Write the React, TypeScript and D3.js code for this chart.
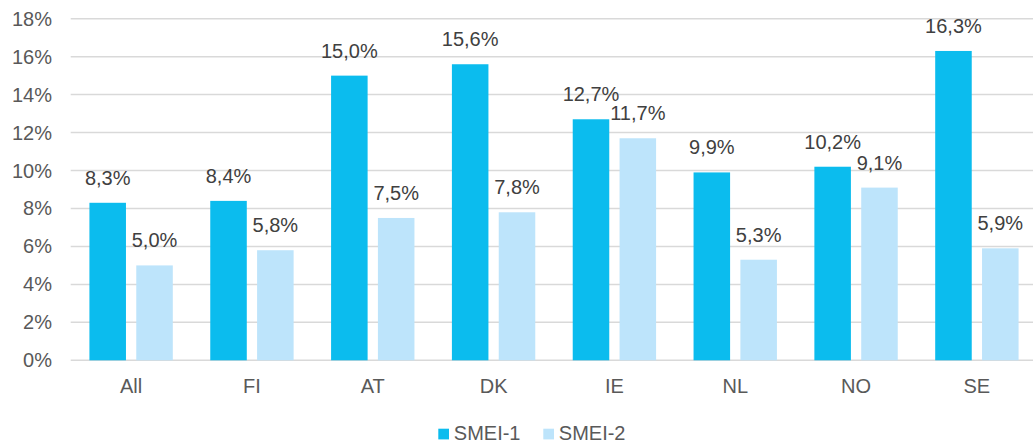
import React from "react";
import * as d3 from "d3";

const categories = ["All", "FI", "AT", "DK", "IE", "NL", "NO", "SE"];
const seriesNames = ["SMEI-1", "SMEI-2"];
const smei1 = [8.3, 8.4, 15.0, 15.6, 12.7, 9.9, 10.2, 16.3];
const smei2 = [5.0, 5.8, 7.5, 7.8, 11.7, 5.3, 9.1, 5.9];
const yTicks = [0, 2, 4, 6, 8, 10, 12, 14, 16, 18];
const colors = ["#0BBCEE", "#BDE4FB"];

const W = 1033;
const H = 443;
const FONT = "'Liberation Sans', Arial, sans-serif";
const TEXT = "#595959";

export default function App() {
  const x0 = d3
    .scaleBand<string>()
    .domain(categories)
    .range([70.7, 1037.3])
    .paddingInner(0.31)
    .paddingOuter(0.155);
  const x1 = d3
    .scaleBand<string>()
    .domain(seriesNames)
    .range([0, x0.bandwidth()])
    .paddingInner(0.22);
  const y = d3.scaleLinear().domain([0, 18]).range([360.3, 18.7]);
  const series = [smei1, smei2];
  const fmt = (v: number) => v.toFixed(1).replace(".", ",") + "%";

  return (
    <div style={{ position: "absolute", left: 0, top: 0 }}>
      <svg width={W} height={H} style={{ display: "block", background: "#fff" }}>
        <rect width={W} height={H} fill="#fff" />
        {yTicks.map((t) => (
          <g key={t}>
            <line
              x1={70.7}
              x2={W}
              y1={y(t)}
              y2={y(t)}
              stroke="#D9D9D9"
              strokeWidth={1.5}
            />
            <text
              x={52}
              y={y(t)}
              dy="0.35em"
              textAnchor="end"
              fontFamily={FONT}
              fontSize={20}
              fill={TEXT}
            >
              {t}%
            </text>
          </g>
        ))}
        {categories.map((c, i) => (
          <g key={c}>
            {series.map((s, si) => {
              const bx = (x0(c) as number) + (x1(seriesNames[si]) as number);
              const bw = x1.bandwidth();
              return (
                <g key={si}>
                  <rect
                    x={bx}
                    y={y(s[i])}
                    width={bw}
                    height={y(0) - y(s[i])}
                    fill={colors[si]}
                  />
                  <text
                    x={bx + bw / 2}
                    y={y(s[i]) - 18}
                    textAnchor="middle"
                    fontFamily={FONT}
                    fontSize={20}
                    fill="#404040"
                  >
                    {fmt(s[i])}
                  </text>
                </g>
              );
            })}
            <text
              x={(x0(c) as number) + x0.bandwidth() / 2}
              y={393}
              textAnchor="middle"
              fontFamily={FONT}
              fontSize={20}
              fill={TEXT}
            >
              {c}
            </text>
          </g>
        ))}
        {seriesNames.map((n, i) => {
          const lx = i === 0 ? 438.3 : 543.3;
          return (
            <g key={n}>
              <rect x={lx} y={428.7} width={10.7} height={10.7} fill={colors[i]} />
              <text
                x={lx + 15.5}
                y={440}
                fontFamily={FONT}
                fontSize={20}
                fill={TEXT}
              >
                {n}
              </text>
            </g>
          );
        })}
      </svg>
    </div>
  );
}
